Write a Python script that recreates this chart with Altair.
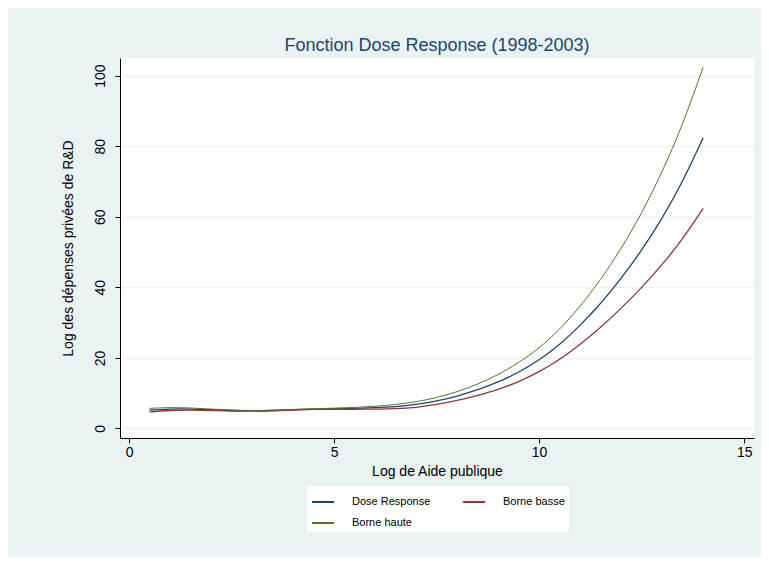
import altair as alt
import pandas as pd

# ---- data ----
x_vals = [0.5, 1.0, 1.5, 2.0, 2.5, 3.0, 3.5, 4.0, 4.5, 5.0, 5.5, 6.0, 6.5, 7.0,
          7.5, 8.0, 8.5, 9.0, 9.5, 10.0, 10.5, 11.0, 11.5, 12.0, 12.5, 13.0, 13.5, 14.0]

dose_response = [5.2, 5.5, 5.5, 5.3, 5.1, 5.0, 5.1, 5.3, 5.5, 5.6, 5.7, 5.9, 6.2, 6.8,
                 7.8, 9.2, 11.0, 13.2, 16.0, 19.5, 23.9, 29.3, 35.5, 42.6, 50.6, 59.7, 70.2, 82.4]

borne_basse = [4.7, 5.1, 5.2, 5.1, 4.95, 4.9, 5.0, 5.2, 5.4, 5.45, 5.45, 5.5, 5.6, 6.0,
               6.8, 7.95, 9.4, 11.1, 13.3, 16.1, 19.6, 23.9, 28.7, 34.1, 40.0, 46.5, 53.9, 62.4]

borne_haute = [5.7, 5.9, 5.8, 5.5, 5.25, 5.1, 5.2, 5.4, 5.6, 5.75, 5.95, 6.3, 6.8, 7.6,
               8.8, 10.45, 12.6, 15.3, 18.7, 22.9, 28.2, 34.7, 42.3, 51.1, 61.2, 72.9, 86.5, 102.4]

series_names = ["Dose Response", "Borne basse", "Borne haute"]
series_colors = ["#1A476F", "#90353B", "#55752F"]
series_widths = [1.3, 1.3, 1.0]
# legend layout fills column by column: this order gives
# row 1 = Dose Response, Borne basse ; row 2 = Borne haute
legend_order = ["Dose Response", "Borne haute", "Borne basse"]
legend_colors = ["#1A476F", "#55752F", "#90353B"]

x_ticks = [0, 5, 10, 15]
y_ticks = [0, 20, 40, 60, 80, 100]

rows = []
for name, vals, w in zip(series_names, [dose_response, borne_basse, borne_haute], series_widths):
    for xv, yv in zip(x_vals, vals):
        rows.append({"x": xv, "y": yv, "serie": name, "w": w})
df = pd.DataFrame(rows)

FONT = "Liberation Sans"
BG = "#EAF2F3"

chart = alt.Chart(df).mark_line(interpolate="natural").encode(
    x=alt.X("x:Q",
            scale=alt.Scale(domain=[-0.22, 15.24], nice=False, zero=False),
            axis=alt.Axis(values=x_ticks, title="Log de Aide publique", grid=False,
                          domainColor="black", domainWidth=1, tickColor="black", tickSize=5,
                          labelFont=FONT, labelFontSize=14, labelColor="black", labelPadding=2,
                          titleFont=FONT, titleFontSize=14, titleFontWeight="normal",
                          titleColor="black", titlePadding=5)),
    y=alt.Y("y:Q",
            scale=alt.Scale(domain=[-2.7, 105], nice=False, zero=False),
            axis=alt.Axis(values=y_ticks, title="Log des dépenses privées de R&D",
                          grid=True, gridColor=BG, gridWidth=1.6,
                          domainColor="black", domainWidth=1, tickColor="black", tickSize=5,
                          labelAngle=270, labelAlign="center", labelBaseline="bottom",
                          labelFont=FONT, labelFontSize=14, labelColor="black", labelPadding=8,
                          titleFont=FONT, titleFontSize=14, titleFontWeight="normal",
                          titleColor="black", titlePadding=18)),
    color=alt.Color("serie:N",
                    scale=alt.Scale(domain=legend_order, range=legend_colors),
                    legend=alt.Legend(title=None, orient="none", legendX=187, legendY=428,
                                      columns=2, fillColor="white", padding=4,
                                      symbolType="stroke", symbolSize=484, symbolStrokeWidth=2,
                                      labelFont=FONT, labelFontSize=11, labelColor="black",
                                      labelOffset=17, columnPadding=28, rowPadding=4)),
    strokeWidth=alt.StrokeWidth("w:Q", scale=None, legend=None),
).properties(
    width=634,
    height=380,
    background=BG,
    autosize="none",
    padding={"left": 112, "top": 50, "right": 7, "bottom": 119},
    title=alt.TitleParams("Fonction Dose Response (1998-2003)", font=FONT, fontSize=18,
                          fontWeight="normal", color="#1A476F", anchor="middle", offset=3),
).configure_view(fill="white", stroke=None)

chart.save("out.html", embed_options={"renderer": "svg", "actions": False})
